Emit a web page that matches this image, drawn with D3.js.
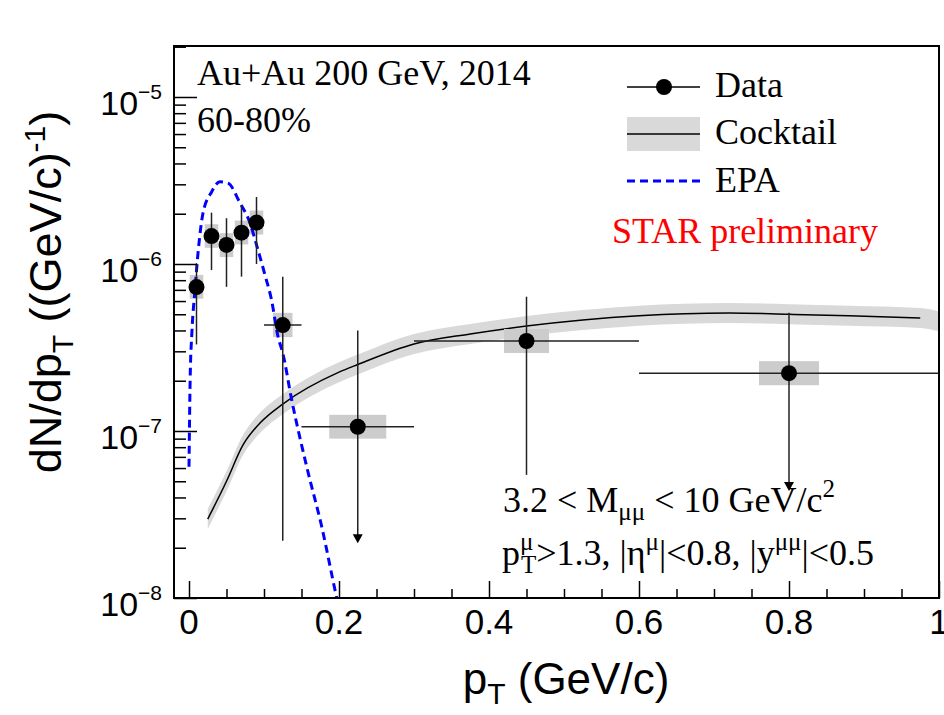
<!DOCTYPE html>
<html>
<head>
<meta charset="utf-8">
<script src="https://cdn.jsdelivr.net/npm/d3@7"></script>
<style>
  body { margin: 0; background: #fff; }
  svg { display: block; }
</style>
</head>
<body>
<svg width="944" height="715"></svg>
<script>
var svg = d3.select('svg');

var serif = "'Liberation Serif', 'Times New Roman', serif";
var sans = "'Liberation Sans', Arial, Helvetica, sans-serif";

// data points (pT in GeV/c, dN/dpT)
var dataPt     = [0.01, 0.03, 0.05, 0.07, 0.09, 0.125, 0.225, 0.45, 0.8];
var dataPtErr  = [0.01, 0.01, 0.01, 0.01, 0.01, 0.025, 0.075, 0.15, 0.2];
var dataVal    = [7.27e-7, 1.47e-6, 1.30e-6, 1.54e-6, 1.77e-6, 4.31e-7, 1.06e-7, 3.46e-7, 2.22e-7];
var statHigh   = [1.01e-6, 2.03e-6, 1.88e-6, 2.25e-6, 2.52e-6, 8.4e-7, 4.0e-7, 6.37e-7, 5.1e-7];
var statLow    = [3.3e-7, 9.2e-7, 7.3e-7, 8.4e-7, 1.0e-6, 2.2e-8, 2.13e-8, 5.46e-8, 4.37e-8];
var upperLimit = [false, false, false, false, false, false, true, false, true];
var sysHigh    = [8.6e-7, 1.73e-6, 1.53e-6, 1.82e-6, 2.09e-6, 5.1e-7, 1.25e-7, 4.08e-7, 2.62e-7];
var sysLow     = [6.2e-7, 1.25e-6, 1.10e-6, 1.31e-6, 1.50e-6, 3.65e-7, 0.90e-7, 2.93e-7, 1.88e-7];
var sysPtErr   = [0.009, 0.009, 0.009, 0.009, 0.009, 0.013, 0.038, 0.03, 0.04];

// cocktail
var cocktailPt  = [0.025, 0.05, 0.072, 0.095, 0.125, 0.2, 0.225, 0.30, 0.375, 0.45, 0.525, 0.6, 0.72, 0.8, 0.88, 0.975];
var cocktailVal = [2.97e-8, 5.0e-8, 8.25e-8, 1.12e-7, 1.45e-7, 2.25e-7, 2.5e-7, 3.32e-7, 3.81e-7, 4.25e-7, 4.62e-7, 4.90e-7, 5.09e-7, 5.0e-7, 4.90e-7, 4.75e-7];
var bandPt   = [0.025, 0.05, 0.072, 0.095, 0.125, 0.2, 0.225, 0.30, 0.375, 0.45, 0.525, 0.6, 0.72, 0.8, 0.88, 0.975, 1.0];
var bandHigh = [3.41e-8, 5.74e-8, 9.47e-8, 1.29e-7, 1.66e-7, 2.58e-7, 2.87e-7, 3.81e-7, 4.37e-7, 4.88e-7, 5.30e-7, 5.63e-7, 5.84e-7, 5.74e-7, 5.63e-7, 5.45e-7, 5.2e-7];
var bandLow  = [2.59e-8, 4.36e-8, 7.19e-8, 9.75e-8, 1.26e-7, 1.96e-7, 2.18e-7, 2.89e-7, 3.32e-7, 3.70e-7, 4.02e-7, 4.27e-7, 4.43e-7, 4.36e-7, 4.27e-7, 4.14e-7, 3.95e-7];

// EPA
var epaPt  = [0.0, 0.0015, 0.004, 0.008, 0.012, 0.0187, 0.0303, 0.0413, 0.052, 0.068, 0.0813, 0.0907, 0.1013, 0.110, 0.1187, 0.125, 0.137, 0.157, 0.177, 0.197, 0.205];
var epaVal = [6.1e-8, 2.0e-7, 4.0e-7, 7.0e-7, 1.16e-6, 2.02e-6, 2.71e-6, 3.11e-6, 3.05e-6, 2.32e-6, 1.76e-6, 1.27e-6, 8.6e-7, 6.1e-7, 3.67e-7, 2.93e-7, 1.53e-7, 6.1e-8, 2.67e-8, 1.0e-8, 7e-9];

// axis ticks
var xMajor = [0, 0.2, 0.4, 0.6, 0.8, 1.0];
var xLabels = ['0', '0.2', '0.4', '0.6', '0.8', '1'];
var yMajor = [1e-8, 1e-7, 1e-6, 1e-5];
var yExp = ['8', '7', '6', '5'];

var frameL = 174, frameR = 939, frameT = 46, frameB = 598;

var x = d3.scaleLinear().domain([-0.02, 1.0]).range([frameL, frameR]);
var y = d3.scaleLog().domain([1e-8, 2.02e-5]).range([frameB, frameT]);

var xMinor = d3.range(0, 1.001, 0.05).filter(function(v){
  return Math.abs(v * 5 - Math.round(v * 5)) > 1e-6;
});
var yMinor = [];
[-8, -7, -6, -5].forEach(function(e){
  for (var k = 2; k <= 9; k++) {
    var v = k * Math.pow(10, e);
    if (v <= 2.02e-5) yMinor.push(v);
  }
});

svg.append('clipPath').attr('id', 'plotclip')
  .append('rect')
  .attr('x', frameL).attr('y', frameT)
  .attr('width', frameR - frameL).attr('height', frameB - frameT);

var plot = svg.append('g').attr('clip-path', 'url(#plotclip)');

// cocktail band
var band = bandPt.map(function(p, i){ return {pt: p, lo: bandLow[i], hi: bandHigh[i]}; });
plot.append('path')
  .datum(band)
  .attr('d', d3.area()
    .curve(d3.curveMonotoneX)
    .x(function(d){ return x(d.pt); })
    .y0(function(d){ return y(d.lo); })
    .y1(function(d){ return y(d.hi); }))
  .attr('fill', '#d9d9d9');

var cocktail = cocktailPt.map(function(p, i){ return {pt: p, v: cocktailVal[i]}; });
plot.append('path')
  .datum(cocktail)
  .attr('d', d3.line()
    .curve(d3.curveMonotoneX)
    .x(function(d){ return x(d.pt); })
    .y(function(d){ return y(d.v); }))
  .attr('fill', 'none')
  .attr('stroke', '#000')
  .attr('stroke-width', 1.5);

var points = dataPt.map(function(p, i){
  return {pt: p, ex: dataPtErr[i], v: dataVal[i], hi: statHigh[i], lo: statLow[i],
    ul: upperLimit[i], shi: sysHigh[i], slo: sysLow[i], sex: sysPtErr[i]};
});

// systematic boxes
plot.selectAll('rect.sys')
  .data(points)
  .enter()
  .append('rect')
  .attr('class', 'sys')
  .attr('x', function(d){ return x(d.pt - d.sex); })
  .attr('width', function(d){ return x(d.pt + d.sex) - x(d.pt - d.sex); })
  .attr('y', function(d){ return y(d.shi); })
  .attr('height', function(d){ return y(d.slo) - y(d.shi); })
  .attr('fill', '#cccccc');

// EPA
var epa = epaPt.map(function(p, i){ return {pt: p, v: epaVal[i]}; });
plot.append('path')
  .datum(epa)
  .attr('d', d3.line()
    .curve(d3.curveMonotoneX)
    .x(function(d){ return x(d.pt); })
    .y(function(d){ return y(d.v); }))
  .attr('fill', 'none')
  .attr('stroke', '#0000ff')
  .attr('stroke-width', 3)
  .attr('stroke-dasharray', '8,5');

// error bars
plot.selectAll('line.ex')
  .data(points)
  .enter()
  .append('line')
  .attr('x1', function(d){ return x(d.pt - d.ex); })
  .attr('x2', function(d){ return x(d.pt + d.ex); })
  .attr('y1', function(d){ return y(d.v); })
  .attr('y2', function(d){ return y(d.v); })
  .attr('stroke', '#222')
  .attr('stroke-width', 1.5);

plot.selectAll('line.ey')
  .data(points)
  .enter()
  .append('line')
  .attr('x1', function(d){ return x(d.pt); })
  .attr('x2', function(d){ return x(d.pt); })
  .attr('y1', function(d){ return y(d.hi); })
  .attr('y2', function(d){ return d.ul ? y(d.lo) - 8 : y(d.lo); })
  .attr('stroke', '#222')
  .attr('stroke-width', 1.5);

plot.selectAll('path.arrow')
  .data(points.filter(function(d){ return d.ul; }))
  .enter()
  .append('path')
  .attr('d', function(d){
    var cx = x(d.pt), ty = y(d.lo);
    return 'M' + (cx - 5) + ',' + (ty - 9) + 'L' + (cx + 5) + ',' + (ty - 9) + 'L' + cx + ',' + ty + 'Z';
  })
  .attr('fill', '#000');

plot.selectAll('circle')
  .data(points)
  .enter()
  .append('circle')
  .attr('cx', function(d){ return x(d.pt); })
  .attr('cy', function(d){ return y(d.v); })
  .attr('r', 8)
  .attr('fill', '#000');

// axes, ticks inside the frame
function tickStyle(g) {
  g.select('.domain').remove();
  g.selectAll('line').attr('stroke', '#000').attr('stroke-width', 1.5);
}

svg.append('g')
  .attr('transform', 'translate(' + frameL + ',0)')
  .call(d3.axisRight(y).tickValues(yMajor).tickSize(23).tickFormat(''))
  .call(tickStyle);
svg.append('g')
  .attr('transform', 'translate(' + frameL + ',0)')
  .call(d3.axisRight(y).tickValues(yMinor).tickSize(12).tickFormat(''))
  .call(tickStyle);
svg.append('g')
  .attr('transform', 'translate(0,' + frameB + ')')
  .call(d3.axisTop(x).tickValues(xMajor).tickSize(17).tickFormat(''))
  .call(tickStyle);
svg.append('g')
  .attr('transform', 'translate(0,' + frameB + ')')
  .call(d3.axisTop(x).tickValues(xMinor).tickSize(9).tickFormat(''))
  .call(tickStyle);

svg.append('rect')
  .attr('x', frameL).attr('y', frameT)
  .attr('width', frameR - frameL).attr('height', frameB - frameT)
  .attr('fill', 'none').attr('stroke', '#000').attr('stroke-width', 2);

// tick labels
svg.selectAll('text.xl')
  .data(xMajor)
  .enter()
  .append('text')
  .attr('x', function(d){ return x(d); })
  .attr('y', 634)
  .attr('text-anchor', 'middle')
  .attr('font-family', sans)
  .attr('font-size', 35)
  .text(function(d, i){ return xLabels[i]; });

var yl = svg.selectAll('text.yl')
  .data(yMajor)
  .enter()
  .append('text')
  .attr('x', 162)
  .attr('y', function(d){ return y(d) + 18; })
  .attr('text-anchor', 'end')
  .attr('font-family', sans)
  .attr('font-size', 34);
yl.append('tspan').text('10');
yl.append('tspan').attr('dy', -16).attr('font-size', 21)
  .text(function(d, i){ return '\u2212' + yExp[i]; });

// axis titles
var xt = svg.append('text')
  .attr('x', 566).attr('y', 694)
  .attr('text-anchor', 'middle')
  .attr('font-family', sans)
  .attr('font-size', 44);
xt.append('tspan').text('p');
xt.append('tspan').attr('dy', 10).attr('font-size', 30).text('T');
xt.append('tspan').attr('dy', -10).text(' (GeV/c)');

var yt = svg.append('text')
  .attr('transform', 'translate(61,292) rotate(-90)')
  .attr('text-anchor', 'middle')
  .attr('font-family', sans)
  .attr('font-size', 45);
yt.append('tspan').text('dN/dp');
yt.append('tspan').attr('dy', 12).attr('font-size', 30).text('T');
yt.append('tspan').attr('dy', -12).text(' ((GeV/c)');
yt.append('tspan').attr('dy', -16).attr('font-size', 30).text('-1');
yt.append('tspan').attr('dy', 16).text(')');

// labels
function label(tx, ty, str, color) {
  return svg.append('text')
    .attr('x', tx).attr('y', ty)
    .attr('font-family', serif)
    .attr('font-size', 36)
    .attr('fill', color || '#000')
    .text(str);
}
label(197, 85, 'Au+Au 200 GeV, 2014');
label(197, 132, '60-80%');

// legend
var lg = svg.append('g');
lg.append('line').attr('x1', 627).attr('x2', 700).attr('y1', 87).attr('y2', 87)
  .attr('stroke', '#000').attr('stroke-width', 1.5);
lg.append('circle').attr('cx', 664).attr('cy', 87).attr('r', 8).attr('fill', '#000');
label(715, 97, 'Data');
lg.append('rect').attr('x', 627).attr('y', 117).attr('width', 73).attr('height', 34).attr('fill', '#d9d9d9');
lg.append('line').attr('x1', 627).attr('x2', 700).attr('y1', 134).attr('y2', 134)
  .attr('stroke', '#000').attr('stroke-width', 1.5);
label(715, 144, 'Cocktail');
lg.append('line').attr('x1', 627).attr('x2', 700).attr('y1', 181).attr('y2', 181)
  .attr('stroke', '#0000ff').attr('stroke-width', 3).attr('stroke-dasharray', '8,5');
label(715, 192, 'EPA');
label(612, 243, 'STAR preliminary', '#ff0000');

// kinematic cuts
var c1 = label(503, 512, '');
c1.append('tspan').text('3.2 < M');
c1.append('tspan').attr('dy', 8).attr('font-size', 25).text('\u03bc\u03bc');
c1.append('tspan').attr('dy', -8).text(' < 10 GeV/c');
c1.append('tspan').attr('dy', -15).attr('font-size', 25).text('2');

var c2 = label(502, 565, '');
c2.append('tspan').text('p');
c2.append('tspan').attr('dy', -15).attr('font-size', 25).text('\u03bc');
c2.append('tspan').attr('dx', -12.5).attr('dy', 23).attr('font-size', 25).text('T');
c2.append('tspan').attr('dy', -8).text('>1.3, |\u03b7');
c2.append('tspan').attr('dy', -15).attr('font-size', 25).text('\u03bc');
c2.append('tspan').attr('dy', 15).text('|<0.8, |y');
c2.append('tspan').attr('dy', -15).attr('font-size', 25).text('\u03bc\u03bc');
c2.append('tspan').attr('dy', 15).text('|<0.5');
</script>
</body>
</html>
